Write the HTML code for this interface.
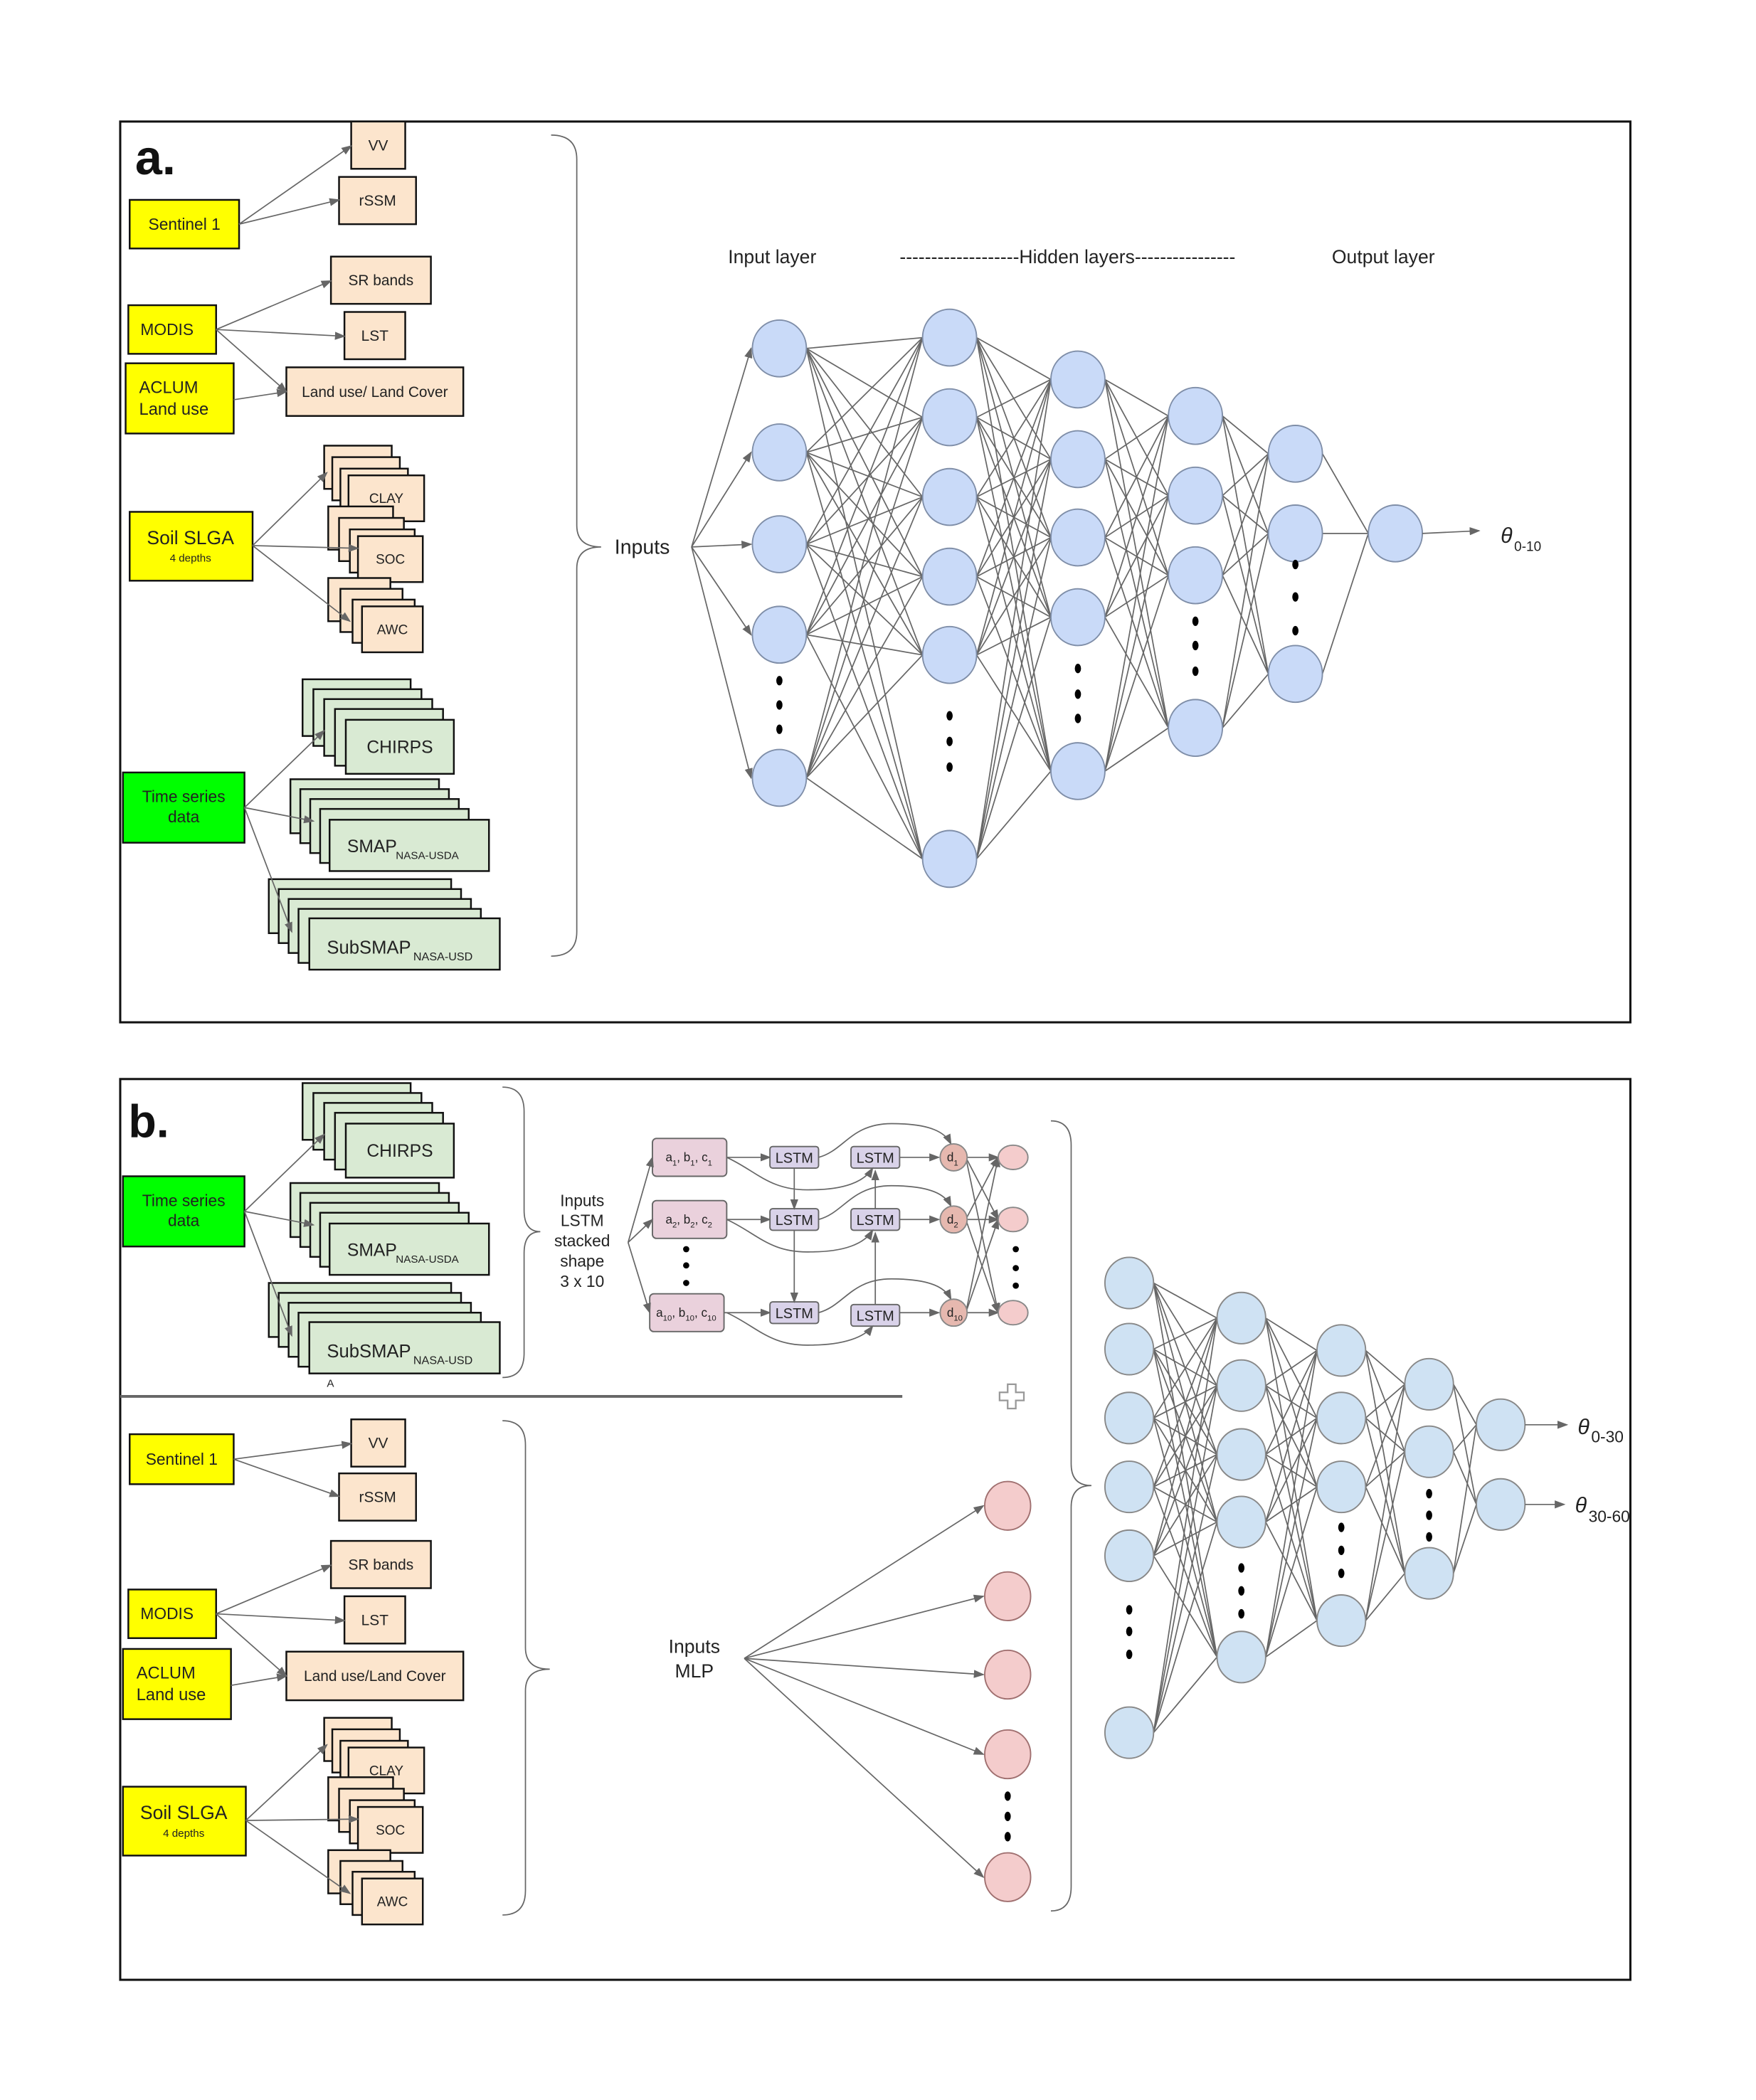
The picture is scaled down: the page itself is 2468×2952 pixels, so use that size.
<!DOCTYPE html>
<html><head><meta charset="utf-8"><style>
html,body{margin:0;padding:0;background:#fff}
svg{display:block}
text{font-family:"Liberation Sans",sans-serif;fill:#222}
</style></head><body>
<svg id="s" xmlns="http://www.w3.org/2000/svg" width="2468" height="2952" viewBox="0 0 1300 1555" preserveAspectRatio="none">
<defs>
<marker id="ar" markerWidth="8" markerHeight="8" refX="7" refY="4" orient="auto" markerUnits="userSpaceOnUse"><path d="M0,1 L8,4 L0,7 z" fill="#666"/></marker>
</defs>
<rect x="89" y="90" width="1118" height="667" fill="none" stroke="#111" stroke-width="1.6"/>
<rect x="89" y="799" width="1118" height="667" fill="none" stroke="#111" stroke-width="1.6"/>
<text x="100" y="129" font-size="36" font-weight="bold" style="fill:#111">a.</text>
<text x="95" y="842" font-size="34" font-weight="bold" style="fill:#111">b.</text>
<line x1="89" y1="1034" x2="668" y2="1034" stroke="#666" stroke-width="2"/>
<g id="g"></g>
<text x="539" y="195" font-size="14">Input layer</text>
<text x="666" y="195" font-size="14">-------------------Hidden layers----------------</text>
<text x="986" y="195" font-size="14">Output layer</text>
<text x="455" y="410" font-size="15">Inputs</text>
<text x="1111" y="402" font-size="16" font-style="italic" font-family="Liberation Serif">θ</text><text x="1121" y="408" font-size="10">0-10</text>
<text x="1168" y="1062" font-size="16" font-style="italic" font-family="Liberation Serif">θ</text><text x="1178" y="1068" font-size="12">0-30</text>
<text x="1166" y="1120" font-size="16" font-style="italic" font-family="Liberation Serif">θ</text><text x="1176" y="1127" font-size="12">30-60</text>
<g font-size="12" text-anchor="middle">
<text x="431" y="893">Inputs</text><text x="431" y="908">LSTM</text><text x="431" y="923">stacked</text><text x="431" y="938">shape</text><text x="431" y="953">3 x 10</text>
</g>
<text x="514" y="1224" font-size="14" text-anchor="middle">Inputs</text>
<text x="514" y="1242" font-size="14" text-anchor="middle">MLP</text>
<path d="M746,1025 h6 v6 h6 v6 h-6 v6 h-6 v-6 h-6 v-6 h6 z" fill="none" stroke="#999" stroke-width="1.2"/>
<text x="242" y="1027" font-size="8">A</text>
</svg>
<script>
const S='http://www.w3.org/2000/svg',G=document.getElementById('g');
function el(t,a,txt){const e=document.createElementNS(S,t);for(const k in a)e.setAttribute(k,a[k]);if(txt!=null)e.textContent=txt;G.appendChild(e);return e;}
function ln(x1,y1,x2,y2,arrow){const a={x1,y1,x2,y2,stroke:'#666','stroke-width':0.9};if(arrow)a['marker-end']='url(#ar)';el('line',a);}
function pth(d,arrow){const a={d,fill:'none',stroke:'#666','stroke-width':0.9};if(arrow)a['marker-end']='url(#ar)';el('path',a);}
function box(x,y,w,h,fill,lines,fs,sub){el('rect',{x,y,width:w,height:h,fill,stroke:'#111','stroke-width':1.3});
 if(lines){const n=lines.length;lines.forEach((t,i)=>{el('text',{x:x+w/2,y:y+h/2+fs*0.35+(i-(n-1)/2)*fs*1.2,'font-size':fs,'text-anchor':'middle'},t);});}}
function lbl(x,y,t,fs,anchor){el('text',{x,y,'font-size':fs,'text-anchor':anchor||'start'},t);}
function stack(x0,y0,x1,y1,w,h,n,fill){for(let i=0;i<n;i++){const x=x0+(x1-x0)*i/(n-1),y=y0+(y1-y0)*i/(n-1);el('rect',{x,y,width:w,height:h,fill,stroke:'#111','stroke-width':1.3});}}
function brace(x0,y0,y1,ym,dx,t){const X=x0+dx;pth(`M${x0},${y0} Q${X},${y0} ${X},${y0+18} L${X},${ym-16} Q${X},${ym} ${X+t},${ym} Q${X},${ym} ${X},${ym+16} L${X},${y1-18} Q${X},${y1} ${x0},${y1}`);}
const Y='#ffff00',P='#fce5cd',GR='#d9ead3';
function sentinelGroup(sx,sy,sw,sh,vv,rssm){box(sx,sy,sw,sh,Y,['Sentinel 1'],12);box(vv[0],vv[1],40,35,P,['VV'],11);box(rssm[0],rssm[1],57,35,P,['rSSM'],11);
 ln(sx+sw,sy+sh/2,vv[0],vv[1]+18,1);ln(sx+sw,sy+sh/2,rssm[0],rssm[1]+17,1);}
function modisGroup(my,ay,sr,lst,lu,luText){box(95,my,65,36,Y,null);lbl(104,my+22,'MODIS',12);
 box(sr[0],sr[1],74,35,P,['SR bands'],11);box(lst[0],lst[1],45,35,P,['LST'],11);box(lu[0],lu[1],131,36,P,[luText],11);
 box(ay[0],ay[1],80,52,Y,null);lbl(ay[0]+10,ay[1]+22,'ACLUM',12.5);lbl(ay[0]+10,ay[1]+38,'Land use',12.5);
 ln(160,my+18,sr[0],sr[1]+18,1);ln(160,my+18,lst[0],lst[1]+18,1);ln(160,my+18,lu[0],lu[1]+18,1);ln(ay[0]+80,ay[1]+27,lu[0],lu[1]+18,1);}
function soilGroup(sx,sy,cl,so,aw){box(sx,sy,91,51,Y,null);lbl(sx+45,sy+24,'Soil SLGA',14,'middle');lbl(sx+45,sy+37,'4 depths',8,'middle');
 stack(cl[0],cl[1],252,cl[1]+17,50,32,3,P);box(258,cl[1]+22,56,34,P,['CLAY'],10);
 stack(so[0],so[1],259,so[1]+17,48,32,3,P);box(265,so[1]+22,48,34,P,['SOC'],10);
 stack(aw[0],aw[1],261,aw[1]+16,46,32,3,P);box(268,aw[1]+21,45,34,P,['AWC'],10);
 const ox=sx+91,oy=sy+25;ln(ox,oy,cl[0]+2,cl[1]+20,1);ln(ox,oy,so[0]+22,so[1]+31,1);ln(ox,oy,aw[0]+16,aw[1]+32,1);}
function tsGroup(ty,c0,s0,u0){box(91,ty,90,52,'#00ff00',null);lbl(136,ty+22,'Time series',12,'middle');lbl(136,ty+37,'data',12,'middle');
 stack(c0[0],c0[1],c0[0]+24,c0[1]+22,80,42,4,GR);box(c0[0]+32,c0[1]+30,80,40,GR,['CHIRPS'],13);
 stack(s0[0],s0[1],s0[0]+22,s0[1]+22,118-8,40,4,GR);el('rect',{x:s0[0]+29,y:s0[1]+30,width:118,height:38,fill:GR,stroke:'#111','stroke-width':1.3});
 lbl(s0[0]+42,s0[1]+54,'SMAP',13);lbl(s0[0]+78,s0[1]+59,'NASA-USDA',8);
 stack(u0[0],u0[1],u0[0]+22,u0[1]+22,135,40,4,GR);el('rect',{x:u0[0]+30,y:u0[1]+29,width:141,height:38,fill:GR,stroke:'#111','stroke-width':1.3});
 lbl(u0[0]+43,u0[1]+55,'SubSMAP',13.5);lbl(u0[0]+107,u0[1]+60,'NASA-USD',8.5);
 const ox=181,oy=ty+26;ln(ox,oy,c0[0]+16,c0[1]+38,1);ln(ox,oy,s0[0]+17,s0[1]+31,1);ln(ox,oy,u0[0]+17,u0[1]+39,1);}
sentinelGroup(96,148,81,36,[260,90],[251,131]);
modisGroup(226,[93,269],[245,190],[255,231],[212,272],'Land use/ Land Cover');
soilGroup(96,379,[240,330],[243,375],[243,428]);
tsGroup(572,[224,503],[215,577],[199,651]);
tsGroup(871,[224,802],[215,876],[199,950]);
sentinelGroup(96,1062,77,37,[260,1051],[251,1091]);
modisGroup(1177,[91,1221],[245,1141],[255,1182],[212,1223],'Land use/Land Cover');
soilGroup(91,1323,[240,1272],[243,1316],[243,1370]);
brace(408,100,708,405,19,18);
brace(372,805,1020,912,16,12);
brace(372,1052,1418,1236,17,18);
brace(778,830,1415,1100,15,15);
function net(layers,rx,ry,fill,stroke){for(let i=0;i<layers.length-1;i++){const A=layers[i],B=layers[i+1];for(const a of A.y)for(const b of B.y)ln(A.x+rx,a,B.x-rx,b);}
 for(const L of layers){for(const y of L.y)el('ellipse',{cx:L.x,cy:y,rx,ry,fill,stroke,'stroke-width':1});
  if(L.d)L.d.forEach(y=>el('ellipse',{cx:L.x,cy:y,rx:2.3,ry:3.5,fill:'#000'}));}}
const NA=[{x:577,y:[258,335,403,470,576],d:[504,522,540]},{x:703,y:[250,309,368,427,485,636],d:[530,549,568]},
 {x:798,y:[281,340,398,457,571],d:[495,514,532]},{x:885,y:[308,367,426,539],d:[460,478,497]},{x:959,y:[336,395,499],d:[418,442,467]},{x:1033,y:[395]}];
net(NA,20,21,'#c9daf8','#7f8ea8');
NA[0].y.forEach(y=>ln(512,405,556,y,1));
ln(1053,395,1095,393,1);
const NB=[{x:836,y:[950,999,1050,1101,1152,1283],d:[1192,1208,1225]},{x:919,y:[976,1026,1077,1127,1227],d:[1161,1178,1195]},
 {x:993,y:[1000,1050,1101,1200],d:[1131,1148,1165]},{x:1058,y:[1025,1075,1165],d:[1106,1122,1138]},{x:1111,y:[1055,1114]}];
net(NB,18,19,'#cfe2f3','#888');
ln(1129,1055,1160,1055,1);ln(1129,1114,1158,1114,1);
const MY=[1115,1182,1240,1299,1390];
MY.forEach(y=>ln(551,1228,728,y,1));
MY.forEach(y=>el('ellipse',{cx:746,cy:y,rx:17,ry:18,fill:'#f4cccc',stroke:'#a07070','stroke-width':1}));
[1330,1345,1360].forEach(y=>el('ellipse',{cx:746,cy:y,rx:2.3,ry:3.5,fill:'#000'}));
const R=[857,903,972];
R.forEach((y,i)=>{for(const o of R)ln(715,y,739,o,1);});
R.forEach((y,i)=>{
 const bx=i==2?481:483;
 el('rect',{x:bx,y:y-14,width:55,height:28,rx:3,fill:'#ead1dc',stroke:'#666','stroke-width':1});
 const subs=['1','2','10'][i];
 const t=el('text',{x:bx+27,y:y+3,'font-size':9,'text-anchor':'middle'});
 t.innerHTML=`a<tspan font-size="6" dy="3">${subs}</tspan><tspan dy="-3">, b</tspan><tspan font-size="6" dy="3">${subs}</tspan><tspan dy="-3">, c</tspan><tspan font-size="6" dy="3">${subs}</tspan>`;
 ln(bx+55,y,570,y,1);
 el('rect',{x:570,y:y-8,width:36,height:16,rx:2,fill:'#d9d2e9',stroke:'#666','stroke-width':1});lbl(588,y+4,'LSTM',10.5,'middle');
 el('rect',{x:630,y:y-8+(i==2?2:0),width:36,height:16,rx:2,fill:'#d9d2e9',stroke:'#666','stroke-width':1});lbl(648,y+4+(i==2?2:0),'LSTM',10.5,'middle');
 ln(666,y,695,y,1);
 pth(`M606,${y} C625,${y-5} 630,${y-25} 660,${y-25} C690,${y-25} 700,${y-18} 704,${y-10}`,1);
 pth(`M538,${y} C560,${y+10} 570,${y+25} 600,${y+24} C625,${y+24} 640,${y+18} 646,${y+(i==2?10:8)}`,1);
 el('circle',{cx:706,cy:y,r:10,fill:'#e6b8af',stroke:'#888','stroke-width':1});
 const d=el('text',{x:701,y:y+3,'font-size':9});d.innerHTML=`d<tspan font-size="6" dy="3">${subs}</tspan>`;
 el('ellipse',{cx:750,cy:y,rx:11,ry:9,fill:'#f4cccc',stroke:'#888','stroke-width':1});
 ln(465,920,bx,y,1);
});
ln(588,865,588,895,1);ln(588,911,588,964,1);
ln(648,966,648,913,1);ln(648,895,648,867,1);
[925,937,950].forEach(y=>el('circle',{cx:508,cy:y,r:2.3,fill:'#000'}));
[925,939,952].forEach(y=>el('circle',{cx:752,cy:y,r:2.3,fill:'#000'}));
</script>
</body></html>
